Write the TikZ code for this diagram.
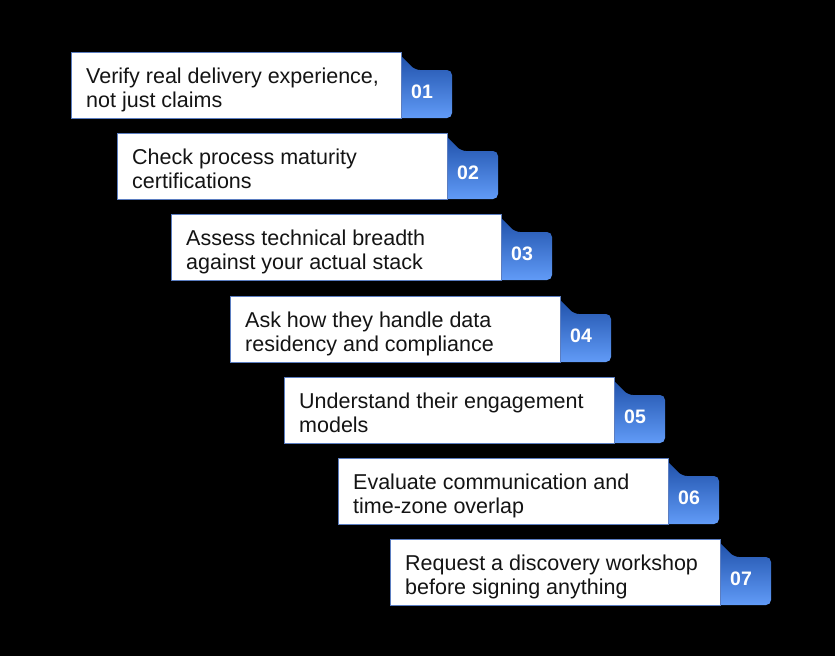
\documentclass[tikz,border=0pt]{standalone}
\usepackage{fontspec}
\setmainfont{Liberation Sans}
\begin{document}
\begin{tikzpicture}[x=1pt,y=-1pt,
  itembox/.style={draw=boxline,line width=0.8pt,fill=white},
  itemtext/.style={anchor=base west,align=left,font=\fontsize{21.5}{23.5}\selectfont,text=black!92,inner sep=0pt},
  numtext/.style={font=\fontsize{19.5}{21}\selectfont\bfseries,text=white,inner sep=0pt}]
\definecolor{boxline}{HTML}{5B7DC0}
\definecolor{tabtop}{HTML}{1C4DA6}
\definecolor{tabbot}{HTML}{619BF7}
\fill[black] (0,0) rectangle (835,656);
\useasboundingbox (0,0) rectangle (835,656);
\foreach \i/\L/\T/\txt in {
  1/71/52/{Verify real delivery experience,\\not just claims},
  2/117/133/{Check process maturity\\certifications},
  3/171/214/{Assess technical breadth\\against your actual stack},
  4/230/296/{Ask how they handle data\\residency and compliance},
  5/284/377/{Understand their engagement\\models},
  6/338/458/{Evaluate communication and\\time-zone overlap},
  7/390/539/{Request a discovery workshop\\before signing anything}}{
  \pgfmathsetmacro{\R}{\L+330}
  \pgfmathsetmacro{\B}{\T+66}
  \shade[top color=tabtop,bottom color=tabbot,rounded corners=5pt]
    (\R-4,\T) -- (\R+14,\T+18) -- (\R+51,\T+18) -- (\R+51,\B) -- (\R-4,\B) -- cycle;
  \draw[itembox] (\L,\T) rectangle (\R,\B);
  \node[itemtext] (t\i) at (\L+15,\T+55) {\txt};
  \node[numtext] (n\i) at (\R+21,{(\T+18+\B)/2-2}) {0\i};
}
\end{tikzpicture}
\end{document}
